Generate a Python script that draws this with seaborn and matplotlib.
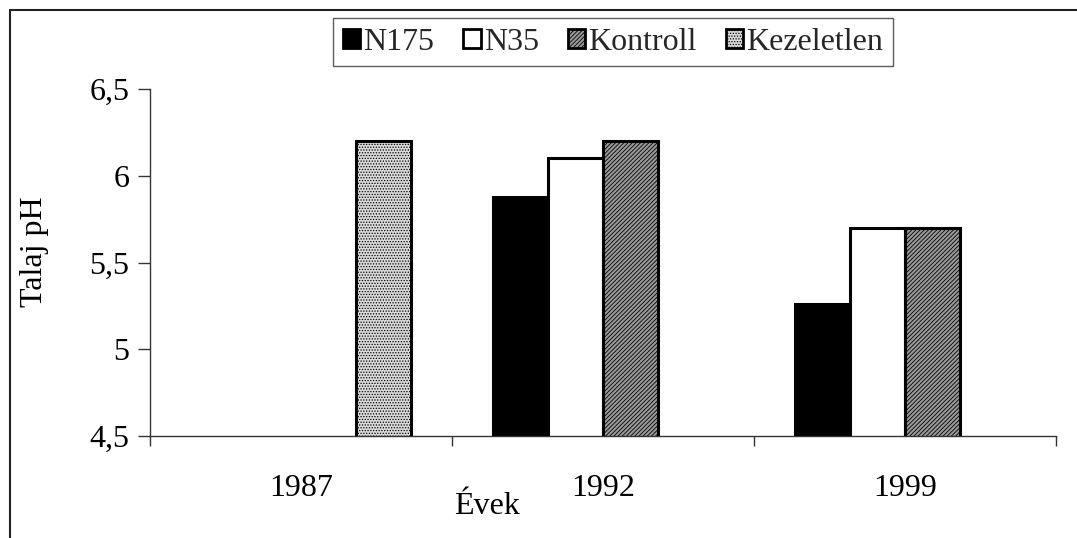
import numpy as np
import pandas as pd
import matplotlib
matplotlib.use("Agg")
import matplotlib.pyplot as plt
import seaborn as sns
from matplotlib.patches import Patch
from matplotlib.lines import Line2D
from matplotlib.ticker import FixedLocator, FuncFormatter

years = ["1987", "1992", "1999"]
series = ["N175", "N35", "Kontroll", "Kezeletlen"]
n175 = [np.nan, 5.88, 5.26]
n35 = [np.nan, 6.10, 5.70]
kontroll = [np.nan, 6.20, 5.70]
kezeletlen = [6.20, np.nan, np.nan]
y_ticks = [4.5, 5.0, 5.5, 6.0, 6.5]
y_tick_labels = ["4,5", "5", "5,5", "6", "6,5"]

rows = []
for name, vals in zip(series, [n175, n35, kontroll, kezeletlen]):
    for yr, v in zip(years, vals):
        rows.append({"Év": yr, "Kezelés": name, "pH": v})
df = pd.DataFrame(rows)

colors = {"N175": "#000000", "N35": "#ffffff", "Kontroll": "#9a9a9a", "Kezeletlen": "#dadada"}
hatches = {"N175": None, "N35": None, "Kontroll": "////////", "Kezeletlen": "......"}

sns.set_theme(style="white")
plt.rcParams["font.family"] = ["Liberation Serif", "DejaVu Serif"]
plt.rcParams["hatch.linewidth"] = 0.6

W, H, DPI = 1077, 538, 100
fig = plt.figure(figsize=(W / DPI, H / DPI), dpi=DPI)
fig.patch.set_facecolor("white")
ax = fig.add_axes([150 / W, 1 - 436 / H, (1056 - 150) / W, (436 - 89) / H])

sns.barplot(data=df, x="Év", y="pH", hue="Kezelés", order=years, hue_order=series,
            palette=colors, width=0.728, ax=ax, legend=False, errorbar=None,
            edgecolor="black", linewidth=2.2, saturation=1)

for cont, name in zip(ax.containers, series):
    for bar in cont:
        bar.set_facecolor(colors[name])
        bar.set_edgecolor("black")
        bar.set_linewidth(2.2)
        if hatches[name]:
            bar.set_hatch(hatches[name])

ax.set_ylim(4.5, 6.5)
ax.set_xlim(-0.5, 2.5)
ax.yaxis.set_major_locator(FixedLocator(y_ticks))
ax.yaxis.set_major_formatter(FuncFormatter(lambda v, p: y_tick_labels[y_ticks.index(round(v, 1))] if round(v, 1) in y_ticks else ""))

ax.xaxis.set_major_locator(FixedLocator([-0.5, 0.5, 1.5, 2.5]))
ax.xaxis.set_major_formatter(FuncFormatter(lambda v, p: ""))
ax.xaxis.set_minor_locator(FixedLocator([0, 1, 2]))
ax.set_xticks([0, 1, 2], years, minor=True)

ax.tick_params(axis="x", which="major", direction="out", length=7, width=1, color="#333333", bottom=True)
ax.tick_params(axis="x", which="minor", length=0, pad=27, labelsize=23, labelcolor="black", bottom=True)
ax.tick_params(axis="y", which="major", direction="out", length=9, width=1, color="#333333", left=True,
               labelsize=23, labelcolor="black", pad=6)

for s in ["top", "right"]:
    ax.spines[s].set_visible(False)
for s in ["left", "bottom"]:
    ax.spines[s].set_color("#333333")
    ax.spines[s].set_linewidth(1)
ax.set_facecolor("white")
ax.grid(False)

ax.set_xlabel("Évek", fontsize=23, color="black")
ax.set_ylabel("Talaj pH", fontsize=23, color="black")
ax.xaxis.set_label_coords((487 - 150) / 906, (436 - 506) / 347)
ax.xaxis.label.set_va("center")
ax.yaxis.set_label_coords((34 - 150) / 906, (436 - 252) / 347)
ax.yaxis.label.set_va("center")

handles = [Patch(facecolor=colors[n], edgecolor="black", linewidth=2, hatch=hatches[n], label=n) for n in series]
leg = fig.legend(handles=handles, loc="upper center", bbox_to_anchor=(613 / W, 1 - 18 / H), ncol=4,
                 fontsize=23, frameon=True, fancybox=False, handlelength=0.55, handleheight=0.55,
                 handletextpad=0.1, columnspacing=0.9, borderpad=0.3, borderaxespad=0)
leg.get_frame().set_edgecolor("#333333")
leg.get_frame().set_linewidth(1)

# outer chart frame
fig.add_artist(Line2D([10 / W, 1.0], [1 - 10 / H, 1 - 10 / H], transform=fig.transFigure, color="#222222", lw=1.5))
fig.add_artist(Line2D([10 / W, 10 / W], [0.0, 1 - 10 / H], transform=fig.transFigure, color="#222222", lw=1.5))

fig.savefig("out.png", dpi=DPI)
